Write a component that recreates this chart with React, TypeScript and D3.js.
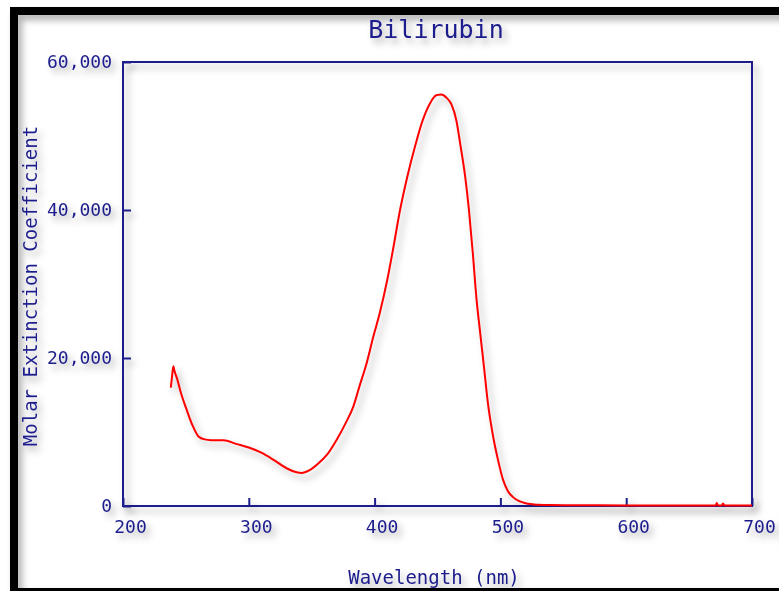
import React, { useRef, useEffect } from 'react';
import * as d3 from 'd3';

// Absorption spectrum
const wavelengths = [
  238, 239, 240, 241, 243, 246, 250, 255, 260, 265, 270, 280, 290, 300, 310, 320, 330, 338, 342, 348,
  355, 362, 370, 377, 383, 388, 394, 399, 404, 410, 415, 420, 426, 432, 438, 444, 449, 453, 457, 461,
  465, 468, 472, 475, 478, 481, 484, 487, 490, 494, 498, 502, 506, 510, 515, 520, 525, 530, 540, 560,
  600, 640, 665, 671, 672, 673, 676, 677, 678, 700,
];
const extinction = [
  16000, 17500, 18900, 18200, 17200, 15300, 13300, 11000, 9400, 9000, 8900, 8900, 8400, 7900, 7200, 6200, 5100, 4550, 4450, 4800,
  5700, 6900, 9000, 11200, 13400, 16200, 19500, 22900, 26000, 30500, 35000, 39800, 44500, 48500, 52000, 54400, 55500, 55600, 55200, 54300,
  52100, 49000, 44500, 40000, 34300, 28000, 23300, 18700, 14000, 9600, 6300, 3600, 2000, 1200, 650, 380, 250, 160, 120, 100,
  80, 70, 70, 70, 400, 70, 70, 350, 70, 60,
];

const xTicks = [200, 300, 400, 500, 600, 700];
const yTicks = [0, 20000, 40000, 60000];

const title = 'Bilirubin';
const xTitle = 'Wavelength (nm)';
const yTitle = 'Molar Extinction Coefficient';

const App = () => {
  const svgRef = useRef<SVGSVGElement>(null);

  useEffect(() => {
    if (!svgRef.current) return;
    const svg = d3.select(svgRef.current);
    svg.selectAll('*').remove();

    const width = 779;
    const height = 591;
    const navy = '#1e1e8c';
    const font = '"DejaVu Sans Mono", monospace';
    const plot = { left: 123, right: 752, top: 62, bottom: 506 };

    svg.attr('width', width).attr('height', height);

    const defs = svg.append('defs');
    const shadow = defs.append('filter')
      .attr('id', 'shadow')
      .attr('x', '-20%').attr('y', '-20%')
      .attr('width', '140%').attr('height', '140%');
    shadow.append('feDropShadow')
      .attr('dx', 4).attr('dy', 5)
      .attr('stdDeviation', 3.5)
      .attr('flood-color', '#000')
      .attr('flood-opacity', 0.32);

    svg.append('rect').attr('width', width).attr('height', height).attr('fill', '#fff');

    // outer black frame
    svg.append('rect')
      .attr('x', 14).attr('y', 11)
      .attr('width', 771).attr('height', 581)
      .attr('fill', 'none')
      .attr('stroke', '#000')
      .attr('stroke-width', 8)
      .attr('filter', 'url(#shadow)');

    const x = d3.scaleLinear().domain([200, 700]).range([plot.left, plot.right]);
    const y = d3.scaleLinear().domain([0, 60000]).range([plot.bottom, plot.top]);

    // plot frame
    svg.append('rect')
      .attr('x', plot.left).attr('y', plot.top)
      .attr('width', plot.right - plot.left)
      .attr('height', plot.bottom - plot.top)
      .attr('fill', 'none')
      .attr('stroke', navy)
      .attr('stroke-width', 2)
      .attr('filter', 'url(#shadow)');

    // ticks point inward
    const xAxis = d3.axisBottom(x).tickValues(xTicks).tickSize(-8).tickPadding(14)
      .tickFormat(d3.format('d'));
    const gx = svg.append('g')
      .attr('transform', `translate(0,${plot.bottom})`)
      .attr('filter', 'url(#shadow)')
      .call(xAxis);
    gx.select('.domain').remove();
    gx.selectAll('line').attr('stroke', navy).attr('stroke-width', 2);
    gx.selectAll('text')
      .attr('fill', navy)
      .attr('dx', 7)
      .style('font-family', font)
      .style('font-size', '18px');

    const yAxis = d3.axisLeft(y).tickValues(yTicks).tickSize(-8).tickPadding(11)
      .tickFormat(d3.format(','));
    const gy = svg.append('g')
      .attr('transform', `translate(${plot.left},0)`)
      .attr('filter', 'url(#shadow)')
      .call(yAxis);
    gy.select('.domain').remove();
    gy.selectAll('line').attr('stroke', navy).attr('stroke-width', 2);
    gy.selectAll('text')
      .attr('fill', navy)
      .style('font-family', font)
      .style('font-size', '18px');

    // spectrum
    const points = wavelengths.map((w, i) => [w, extinction[i]] as [number, number]);
    const line = d3.line<[number, number]>()
      .x(d => x(d[0]))
      .y(d => y(d[1]))
      .curve(d3.curveMonotoneX);
    svg.append('path')
      .datum(points)
      .attr('d', line)
      .attr('fill', 'none')
      .attr('stroke', '#ff0000')
      .attr('stroke-width', 2)
      .attr('filter', 'url(#shadow)');

    // titles
    const texts = svg.append('g').attr('filter', 'url(#shadow)')
      .attr('fill', navy)
      .style('font-family', font);

    texts.append('text')
      .attr('x', 436).attr('y', 38)
      .attr('text-anchor', 'middle')
      .style('font-size', '25px')
      .text(title);

    texts.append('text')
      .attr('x', 434).attr('y', 584)
      .attr('text-anchor', 'middle')
      .style('font-size', '19px')
      .text(xTitle);

    texts.append('text')
      .attr('transform', 'translate(37,286) rotate(-90)')
      .attr('text-anchor', 'middle')
      .style('font-size', '19px')
      .text(yTitle);
  }, []);

  return <svg ref={svgRef} style={{ position: 'fixed', left: 0, top: 0 }}></svg>;
};

export default App;
